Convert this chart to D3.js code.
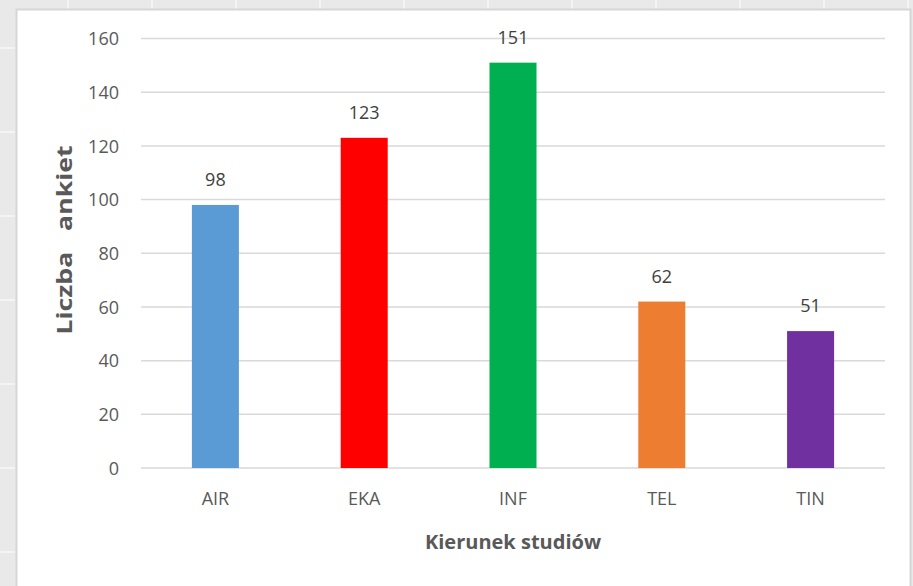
<!DOCTYPE html>
<html><head><meta charset="utf-8">
<script src="https://cdn.jsdelivr.net/npm/d3@7"></script>
<style>html,body{margin:0;padding:0;background:#e9e9e9;}svg{display:block;}</style>
</head><body>
<svg id="c" width="913" height="586"></svg>
<script>
const categories = ["AIR", "EKA", "INF", "TEL", "TIN"];
const values = [98, 123, 151, 62, 51];
const colors = ["#5b9bd5", "#ff0000", "#00b050", "#ed7d31", "#7030a0"];
const yTicks = [0, 20, 40, 60, 80, 100, 120, 140, 160];
const xTitle = "Kierunek studiów";
const yTitle = "Liczba   ankiet";

const svg = d3.select("#c");
const font = "'Open Sans', 'Liberation Sans', sans-serif";

// spreadsheet cell lines in the background
const bg = svg.append("g");
d3.range(68, 913, 84).forEach(x => bg.append("line").attr("x1", x).attr("x2", x).attr("y1", 0).attr("y2", 9).attr("stroke", "#f7f7f7").attr("stroke-width", 1.5));
d3.range(48, 586, 84).forEach(y => bg.append("line").attr("x1", 0).attr("x2", 15).attr("y1", y).attr("y2", y).attr("stroke", "#f7f7f7").attr("stroke-width", 1.5));

// chart area
svg.append("rect").attr("x", 16.5).attr("y", 9.5).attr("width", 894).attr("height", 600)
  .attr("fill", "#fff").attr("stroke", "#d6d6d6").attr("stroke-width", 2);

const x = d3.scaleBand().domain(categories).range([141, 885]).padding(0);
const y = d3.scaleLinear().domain([0, 160]).range([468, 38.5]);

// gridlines
svg.append("g").selectAll("line").data(yTicks).join("line")
  .attr("x1", 141).attr("x2", 885)
  .attr("y1", d => y(d)).attr("y2", d => y(d))
  .attr("stroke", "#d9d9d9").attr("stroke-width", 1.5);

// y axis labels
const yAxis = svg.append("g").attr("transform", "translate(119,0)")
  .call(d3.axisLeft(y).tickValues(yTicks).tickSize(0).tickPadding(0));
yAxis.select(".domain").remove();
yAxis.selectAll("text").attr("font-family", font).attr("font-size", 18).attr("fill", "#595959").attr("dy", "0.35em");

// x axis labels
const xAxis = svg.append("g").attr("transform", "translate(0,492)")
  .call(d3.axisBottom(x).tickSize(0).tickPadding(0));
xAxis.select(".domain").remove();
xAxis.selectAll("text").attr("font-family", font).attr("font-size", 18).attr("fill", "#595959").attr("dy", "0.71em");

// bars
const bw = x.bandwidth() * 0.316;
svg.append("g").selectAll("rect").data(values).join("rect")
  .attr("x", (d, i) => x(categories[i]) + x.bandwidth() / 2 - bw / 2)
  .attr("width", bw)
  .attr("y", d => y(d))
  .attr("height", d => y(0) - y(d))
  .attr("fill", (d, i) => colors[i]);

// value labels
svg.append("g").selectAll("text").data(values).join("text")
  .attr("x", (d, i) => x(categories[i]) + x.bandwidth() / 2)
  .attr("y", d => y(d) - 19)
  .attr("text-anchor", "middle")
  .attr("font-family", font).attr("font-size", 18).attr("fill", "#404040")
  .text(d => d);

// titles
svg.append("text").attr("x", 513).attr("y", 549).attr("text-anchor", "middle")
  .attr("font-family", font).attr("font-size", 20).attr("font-weight", "bold").attr("fill", "#595959")
  .text(xTitle);
svg.append("text").attr("transform", "translate(72,240) rotate(-90) scale(1.27,1)").attr("text-anchor", "middle")
  .attr("font-family", font).attr("font-size", 21).attr("font-weight", "bold").attr("fill", "#595959")
  .attr("xml:space", "preserve").style("white-space", "pre")
  .text(yTitle);
</script>
</body></html>
